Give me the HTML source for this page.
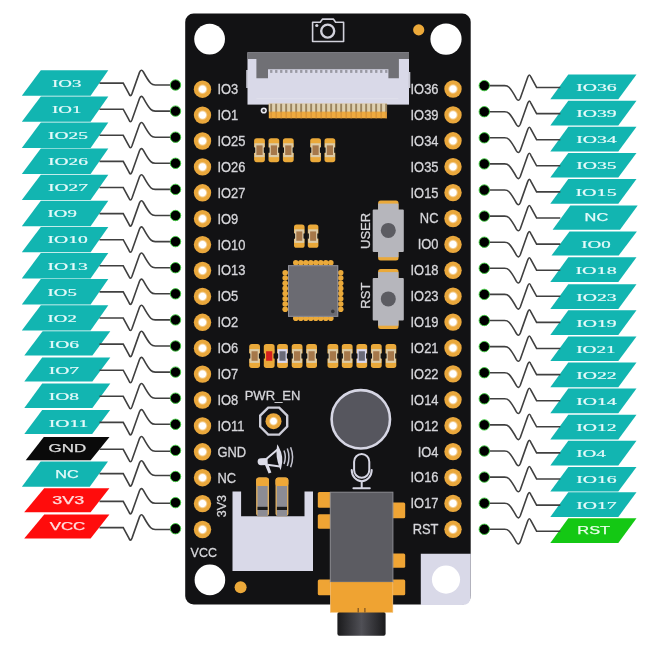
<!DOCTYPE html><html><head><meta charset="utf-8"><style>html,body{margin:0;padding:0;background:#fff;overflow:hidden;}svg{display:block;will-change:transform;}</style></head><body>
<svg width="660" height="652" viewBox="0 0 660 652">
<defs><radialGradient id="padg" cx="50%" cy="50%" r="50%"><stop offset="0" stop-color="#ffffff"/><stop offset="0.36" stop-color="#ffffff"/><stop offset="0.5" stop-color="#f2c47a"/><stop offset="0.6" stop-color="#eaa83c"/><stop offset="1" stop-color="#e9a73c"/></radialGradient><linearGradient id="jackg" x1="0" x2="1" y1="0" y2="0"><stop offset="0" stop-color="#1a1a1c"/><stop offset="0.5" stop-color="#505056"/><stop offset="1" stop-color="#1a1a1c"/></linearGradient></defs>
<rect width="660" height="652" fill="#ffffff"/>
<polygon points="40.8,70.30 108.3,70.30 90.6,95.70 21.8,95.70" fill="#12b5b1"/>
<path d="M99.5 83.1 L123.2 83.1 L128.9 93.6 Q130.4 97.6 132 93.6 L139.5 72.4 Q141.2 68.4 143.4 72 Q148 80.5 150.8 83.3 Q152.4 85 155.2 85 L175.5 85" transform="translate(0,0.00)" fill="none" stroke="#404040" stroke-width="1.6"/>
<circle cx="175.5" cy="85.00" r="5.2" fill="#000" stroke="#40d040" stroke-width="0.9"/>
<text x="52" y="86.80" font-family="Liberation Serif" font-size="11" fill="#e4fafa" stroke="#e4fafa" stroke-width="0.2" textLength="29.4" lengthAdjust="spacingAndGlyphs">IO3</text>
<polygon points="40.8,96.40 108.3,96.40 90.6,121.80 21.8,121.80" fill="#12b5b1"/>
<path d="M99.5 83.1 L123.2 83.1 L128.9 93.6 Q130.4 97.6 132 93.6 L139.5 72.4 Q141.2 68.4 143.4 72 Q148 80.5 150.8 83.3 Q152.4 85 155.2 85 L175.5 85" transform="translate(0,26.10)" fill="none" stroke="#404040" stroke-width="1.6"/>
<circle cx="175.5" cy="111.10" r="5.2" fill="#000" stroke="#40d040" stroke-width="0.9"/>
<text x="52" y="112.90" font-family="Liberation Serif" font-size="11" fill="#e4fafa" stroke="#e4fafa" stroke-width="0.2" textLength="29.4" lengthAdjust="spacingAndGlyphs">IO1</text>
<polygon points="40.8,122.50 108.3,122.50 90.6,147.90 21.8,147.90" fill="#12b5b1"/>
<path d="M99.5 83.1 L123.2 83.1 L128.9 93.6 Q130.4 97.6 132 93.6 L139.5 72.4 Q141.2 68.4 143.4 72 Q148 80.5 150.8 83.3 Q152.4 85 155.2 85 L175.5 85" transform="translate(0,52.20)" fill="none" stroke="#404040" stroke-width="1.6"/>
<circle cx="175.5" cy="137.20" r="5.2" fill="#000" stroke="#40d040" stroke-width="0.9"/>
<text x="48" y="139.00" font-family="Liberation Serif" font-size="11" fill="#e4fafa" stroke="#e4fafa" stroke-width="0.2" textLength="39.9" lengthAdjust="spacingAndGlyphs">IO25</text>
<polygon points="40.8,148.60 108.3,148.60 90.6,174.00 21.8,174.00" fill="#12b5b1"/>
<path d="M99.5 83.1 L123.2 83.1 L128.9 93.6 Q130.4 97.6 132 93.6 L139.5 72.4 Q141.2 68.4 143.4 72 Q148 80.5 150.8 83.3 Q152.4 85 155.2 85 L175.5 85" transform="translate(0,78.30)" fill="none" stroke="#404040" stroke-width="1.6"/>
<circle cx="175.5" cy="163.30" r="5.2" fill="#000" stroke="#40d040" stroke-width="0.9"/>
<text x="48" y="165.10" font-family="Liberation Serif" font-size="11" fill="#e4fafa" stroke="#e4fafa" stroke-width="0.2" textLength="39.9" lengthAdjust="spacingAndGlyphs">IO26</text>
<polygon points="40.8,174.70 108.3,174.70 90.6,200.10 21.8,200.10" fill="#12b5b1"/>
<path d="M99.5 83.1 L123.2 83.1 L128.9 93.6 Q130.4 97.6 132 93.6 L139.5 72.4 Q141.2 68.4 143.4 72 Q148 80.5 150.8 83.3 Q152.4 85 155.2 85 L175.5 85" transform="translate(0,104.40)" fill="none" stroke="#404040" stroke-width="1.6"/>
<circle cx="175.5" cy="189.40" r="5.2" fill="#000" stroke="#40d040" stroke-width="0.9"/>
<text x="48" y="191.20" font-family="Liberation Serif" font-size="11" fill="#e4fafa" stroke="#e4fafa" stroke-width="0.2" textLength="39.9" lengthAdjust="spacingAndGlyphs">IO27</text>
<polygon points="40.8,200.80 108.3,200.80 90.6,226.20 21.8,226.20" fill="#12b5b1"/>
<path d="M99.5 83.1 L123.2 83.1 L128.9 93.6 Q130.4 97.6 132 93.6 L139.5 72.4 Q141.2 68.4 143.4 72 Q148 80.5 150.8 83.3 Q152.4 85 155.2 85 L175.5 85" transform="translate(0,130.50)" fill="none" stroke="#404040" stroke-width="1.6"/>
<circle cx="175.5" cy="215.50" r="5.2" fill="#000" stroke="#40d040" stroke-width="0.9"/>
<text x="47.6" y="217.30" font-family="Liberation Serif" font-size="11" fill="#e4fafa" stroke="#e4fafa" stroke-width="0.2" textLength="29.2" lengthAdjust="spacingAndGlyphs">IO9</text>
<polygon points="40.8,226.90 108.3,226.90 90.6,252.30 21.8,252.30" fill="#12b5b1"/>
<path d="M99.5 83.1 L123.2 83.1 L128.9 93.6 Q130.4 97.6 132 93.6 L139.5 72.4 Q141.2 68.4 143.4 72 Q148 80.5 150.8 83.3 Q152.4 85 155.2 85 L175.5 85" transform="translate(0,156.60)" fill="none" stroke="#404040" stroke-width="1.6"/>
<circle cx="175.5" cy="241.60" r="5.2" fill="#000" stroke="#40d040" stroke-width="0.9"/>
<text x="47.6" y="243.40" font-family="Liberation Serif" font-size="11" fill="#e4fafa" stroke="#e4fafa" stroke-width="0.2" textLength="40.3" lengthAdjust="spacingAndGlyphs">IO10</text>
<polygon points="40.8,253.00 108.3,253.00 90.6,278.40 21.8,278.40" fill="#12b5b1"/>
<path d="M99.5 83.1 L123.2 83.1 L128.9 93.6 Q130.4 97.6 132 93.6 L139.5 72.4 Q141.2 68.4 143.4 72 Q148 80.5 150.8 83.3 Q152.4 85 155.2 85 L175.5 85" transform="translate(0,182.70)" fill="none" stroke="#404040" stroke-width="1.6"/>
<circle cx="175.5" cy="267.70" r="5.2" fill="#000" stroke="#40d040" stroke-width="0.9"/>
<text x="47.6" y="269.50" font-family="Liberation Serif" font-size="11" fill="#e4fafa" stroke="#e4fafa" stroke-width="0.2" textLength="40.3" lengthAdjust="spacingAndGlyphs">IO13</text>
<polygon points="40.8,279.10 108.3,279.10 90.6,304.50 21.8,304.50" fill="#12b5b1"/>
<path d="M99.5 83.1 L123.2 83.1 L128.9 93.6 Q130.4 97.6 132 93.6 L139.5 72.4 Q141.2 68.4 143.4 72 Q148 80.5 150.8 83.3 Q152.4 85 155.2 85 L175.5 85" transform="translate(0,208.80)" fill="none" stroke="#404040" stroke-width="1.6"/>
<circle cx="175.5" cy="293.80" r="5.2" fill="#000" stroke="#40d040" stroke-width="0.9"/>
<text x="47.6" y="295.60" font-family="Liberation Serif" font-size="11" fill="#e4fafa" stroke="#e4fafa" stroke-width="0.2" textLength="29.2" lengthAdjust="spacingAndGlyphs">IO5</text>
<polygon points="40.8,305.20 108.3,305.20 90.6,330.60 21.8,330.60" fill="#12b5b1"/>
<path d="M99.5 83.1 L123.2 83.1 L128.9 93.6 Q130.4 97.6 132 93.6 L139.5 72.4 Q141.2 68.4 143.4 72 Q148 80.5 150.8 83.3 Q152.4 85 155.2 85 L175.5 85" transform="translate(0,234.90)" fill="none" stroke="#404040" stroke-width="1.6"/>
<circle cx="175.5" cy="319.90" r="5.2" fill="#000" stroke="#40d040" stroke-width="0.9"/>
<text x="47.6" y="321.70" font-family="Liberation Serif" font-size="11" fill="#e4fafa" stroke="#e4fafa" stroke-width="0.2" textLength="29.2" lengthAdjust="spacingAndGlyphs">IO2</text>
<polygon points="42.6,331.30 110.3,331.30 92.4,355.60 24.3,355.60" fill="#12b5b1"/>
<path d="M99.5 83.1 L123.2 83.1 L128.9 93.6 Q130.4 97.6 132 93.6 L139.5 72.4 Q141.2 68.4 143.4 72 Q148 80.5 150.8 83.3 Q152.4 85 155.2 85 L175.5 85" transform="translate(0,261.00)" fill="none" stroke="#404040" stroke-width="1.6"/>
<circle cx="175.5" cy="346.00" r="5.2" fill="#000" stroke="#40d040" stroke-width="0.9"/>
<text x="48.7" y="347.80" font-family="Liberation Serif" font-size="11" fill="#e4fafa" stroke="#e4fafa" stroke-width="0.2" textLength="30.3" lengthAdjust="spacingAndGlyphs">IO6</text>
<polygon points="42.2,357.40 110.3,357.40 92.4,381.60 24.3,381.60" fill="#12b5b1"/>
<path d="M99.5 83.1 L123.2 83.1 L128.9 93.6 Q130.4 97.6 132 93.6 L139.5 72.4 Q141.2 68.4 143.4 72 Q148 80.5 150.8 83.3 Q152.4 85 155.2 85 L175.5 85" transform="translate(0,287.10)" fill="none" stroke="#404040" stroke-width="1.6"/>
<circle cx="175.5" cy="372.10" r="5.2" fill="#000" stroke="#40d040" stroke-width="0.9"/>
<text x="48.7" y="373.90" font-family="Liberation Serif" font-size="11" fill="#e4fafa" stroke="#e4fafa" stroke-width="0.2" textLength="30.3" lengthAdjust="spacingAndGlyphs">IO7</text>
<polygon points="42.2,383.60 110.3,383.60 92.4,407.90 24.3,407.90" fill="#12b5b1"/>
<path d="M99.5 83.1 L123.2 83.1 L128.9 93.6 Q130.4 97.6 132 93.6 L139.5 72.4 Q141.2 68.4 143.4 72 Q148 80.5 150.8 83.3 Q152.4 85 155.2 85 L175.5 85" transform="translate(0,313.20)" fill="none" stroke="#404040" stroke-width="1.6"/>
<circle cx="175.5" cy="398.20" r="5.2" fill="#000" stroke="#40d040" stroke-width="0.9"/>
<text x="48.7" y="400.10" font-family="Liberation Serif" font-size="11" fill="#e4fafa" stroke="#e4fafa" stroke-width="0.2" textLength="30.3" lengthAdjust="spacingAndGlyphs">IO8</text>
<polygon points="42.2,410.00 110.1,410.00 92.2,433.90 24.3,433.90" fill="#12b5b1"/>
<path d="M99.5 83.1 L123.2 83.1 L128.9 93.6 Q130.4 97.6 132 93.6 L139.5 72.4 Q141.2 68.4 143.4 72 Q148 80.5 150.8 83.3 Q152.4 85 155.2 85 L175.5 85" transform="translate(0,339.30)" fill="none" stroke="#404040" stroke-width="1.6"/>
<circle cx="175.5" cy="424.30" r="5.2" fill="#000" stroke="#40d040" stroke-width="0.9"/>
<text x="48.7" y="426.50" font-family="Liberation Serif" font-size="11" fill="#e4fafa" stroke="#e4fafa" stroke-width="0.2" textLength="39.7" lengthAdjust="spacingAndGlyphs">IO11</text>
<polygon points="43.8,436.90 109.5,436.90 90.7,460.30 25.7,460.30" fill="#0a0a0a"/>
<path d="M99.5 83.1 L123.2 83.1 L128.9 93.6 Q130.4 97.6 132 93.6 L139.5 72.4 Q141.2 68.4 143.4 72 Q148 80.5 150.8 83.3 Q152.4 85 155.2 85 L175.5 85" transform="translate(0,366.20)" fill="none" stroke="#404040" stroke-width="1.6"/>
<circle cx="175.5" cy="450.40" r="5.2" fill="#000" stroke="#40d040" stroke-width="0.9"/>
<text x="67.4" y="452.40" text-anchor="middle" font-family="Liberation Sans" font-size="10.4" fill="#dcdcdc" stroke="#dcdcdc" stroke-width="0.25" textLength="37.6" lengthAdjust="spacingAndGlyphs">GND</text>
<polygon points="40.6,461.50 108.0,461.50 89.8,486.80 21.9,486.80" fill="#12b5b1"/>
<path d="M99.5 83.1 L123.2 83.1 L128.9 93.6 Q130.4 97.6 132 93.6 L139.5 72.4 Q141.2 68.4 143.4 72 Q148 80.5 150.8 83.3 Q152.4 85 155.2 85 L175.5 85" transform="translate(0,390.50)" fill="none" stroke="#404040" stroke-width="1.6"/>
<circle cx="175.5" cy="476.50" r="5.2" fill="#000" stroke="#40d040" stroke-width="0.9"/>
<text x="67" y="477.95" text-anchor="middle" font-family="Liberation Sans" font-size="10.4" fill="#e4fafa" stroke="#e4fafa" stroke-width="0.25" textLength="23.4" lengthAdjust="spacingAndGlyphs">NC</text>
<polygon points="44.2,488.30 109.4,488.30 90.6,512.30 24.2,512.30" fill="#ff0c0c"/>
<path d="M99.5 83.1 L123.2 83.1 L128.9 93.6 Q130.4 97.6 132 93.6 L139.5 72.4 Q141.2 68.4 143.4 72 Q148 80.5 150.8 83.3 Q152.4 85 155.2 85 L175.5 85" transform="translate(0,418.30)" fill="none" stroke="#404040" stroke-width="1.6"/>
<circle cx="175.5" cy="502.60" r="5.2" fill="#000" stroke="#40d040" stroke-width="0.9"/>
<text x="68.2" y="504.10" text-anchor="middle" font-family="Liberation Sans" font-size="10.4" fill="#ffdede" stroke="#ffdede" stroke-width="0.25" textLength="31.8" lengthAdjust="spacingAndGlyphs">3V3</text>
<polygon points="44.2,514.50 109.4,514.50 90.6,538.40 24.2,538.40" fill="#ff0c0c"/>
<path d="M99.5 83.1 L123.2 83.1 L128.9 93.6 Q130.4 97.6 132 93.6 L139.5 72.4 Q141.2 68.4 143.4 72 Q148 80.5 150.8 83.3 Q152.4 85 155.2 85 L175.5 85" transform="translate(0,444.50)" fill="none" stroke="#404040" stroke-width="1.6"/>
<circle cx="175.5" cy="528.70" r="5.2" fill="#000" stroke="#40d040" stroke-width="0.9"/>
<text x="67.5" y="530.25" text-anchor="middle" font-family="Liberation Sans" font-size="10.4" fill="#ffdede" stroke="#ffdede" stroke-width="0.25" textLength="35.7" lengthAdjust="spacingAndGlyphs">VCC</text>
<polygon points="568.3,74.60 636.5,74.60 618.3,99.30 550.3,99.30" fill="#12b5b1"/>
<path d="M99.5 83.1 L123.2 83.1 L128.9 93.6 Q130.4 97.6 132 93.6 L139.5 72.4 Q141.2 68.4 143.4 72 Q148 80.5 150.8 83.3 Q152.4 85 155.2 85 L175.5 85" transform="translate(0,0.00) translate(659.8,170.6) rotate(180)" fill="none" stroke="#404040" stroke-width="1.6"/>
<circle cx="484.3" cy="85.60" r="5.2" fill="#000" stroke="#40d040" stroke-width="0.9"/>
<text x="576.2" y="91.10" font-family="Liberation Serif" font-size="11" fill="#e4fafa" stroke="#e4fafa" stroke-width="0.2" textLength="40.5" lengthAdjust="spacingAndGlyphs">IO36</text>
<polygon points="568.3,100.70 636.5,100.70 618.3,125.40 550.3,125.40" fill="#12b5b1"/>
<path d="M99.5 83.1 L123.2 83.1 L128.9 93.6 Q130.4 97.6 132 93.6 L139.5 72.4 Q141.2 68.4 143.4 72 Q148 80.5 150.8 83.3 Q152.4 85 155.2 85 L175.5 85" transform="translate(0,26.10) translate(659.8,170.6) rotate(180)" fill="none" stroke="#404040" stroke-width="1.6"/>
<circle cx="484.3" cy="111.70" r="5.2" fill="#000" stroke="#40d040" stroke-width="0.9"/>
<text x="576.2" y="117.20" font-family="Liberation Serif" font-size="11" fill="#e4fafa" stroke="#e4fafa" stroke-width="0.2" textLength="40.5" lengthAdjust="spacingAndGlyphs">IO39</text>
<polygon points="568.3,126.80 636.5,126.80 618.3,151.50 550.3,151.50" fill="#12b5b1"/>
<path d="M99.5 83.1 L123.2 83.1 L128.9 93.6 Q130.4 97.6 132 93.6 L139.5 72.4 Q141.2 68.4 143.4 72 Q148 80.5 150.8 83.3 Q152.4 85 155.2 85 L175.5 85" transform="translate(0,52.20) translate(659.8,170.6) rotate(180)" fill="none" stroke="#404040" stroke-width="1.6"/>
<circle cx="484.3" cy="137.80" r="5.2" fill="#000" stroke="#40d040" stroke-width="0.9"/>
<text x="576.2" y="143.30" font-family="Liberation Serif" font-size="11" fill="#e4fafa" stroke="#e4fafa" stroke-width="0.2" textLength="40.5" lengthAdjust="spacingAndGlyphs">IO34</text>
<polygon points="568.3,152.90 636.5,152.90 618.3,177.60 550.3,177.60" fill="#12b5b1"/>
<path d="M99.5 83.1 L123.2 83.1 L128.9 93.6 Q130.4 97.6 132 93.6 L139.5 72.4 Q141.2 68.4 143.4 72 Q148 80.5 150.8 83.3 Q152.4 85 155.2 85 L175.5 85" transform="translate(0,78.30) translate(659.8,170.6) rotate(180)" fill="none" stroke="#404040" stroke-width="1.6"/>
<circle cx="484.3" cy="163.90" r="5.2" fill="#000" stroke="#40d040" stroke-width="0.9"/>
<text x="576.2" y="169.40" font-family="Liberation Serif" font-size="11" fill="#e4fafa" stroke="#e4fafa" stroke-width="0.2" textLength="40.5" lengthAdjust="spacingAndGlyphs">IO35</text>
<polygon points="568.3,179.00 636.5,179.00 618.3,203.70 550.3,203.70" fill="#12b5b1"/>
<path d="M99.5 83.1 L123.2 83.1 L128.9 93.6 Q130.4 97.6 132 93.6 L139.5 72.4 Q141.2 68.4 143.4 72 Q148 80.5 150.8 83.3 Q152.4 85 155.2 85 L175.5 85" transform="translate(0,104.40) translate(659.8,170.6) rotate(180)" fill="none" stroke="#404040" stroke-width="1.6"/>
<circle cx="484.3" cy="190.00" r="5.2" fill="#000" stroke="#40d040" stroke-width="0.9"/>
<text x="575.4" y="195.50" font-family="Liberation Serif" font-size="11" fill="#e4fafa" stroke="#e4fafa" stroke-width="0.2" textLength="41.3" lengthAdjust="spacingAndGlyphs">IO15</text>
<polygon points="570.3,205.40 637.7,205.40 620.0,229.80 552.6,229.80" fill="#12b5b1"/>
<path d="M99.5 83.1 L123.2 83.1 L128.9 93.6 Q130.4 97.6 132 93.6 L139.5 72.4 Q141.2 68.4 143.4 72 Q148 80.5 150.8 83.3 Q152.4 85 155.2 85 L175.5 85" transform="translate(0,130.50) translate(659.8,170.6) rotate(180)" fill="none" stroke="#404040" stroke-width="1.6"/>
<circle cx="484.3" cy="216.10" r="5.2" fill="#000" stroke="#40d040" stroke-width="0.9"/>
<text x="596.4" y="221.40" text-anchor="middle" font-family="Liberation Sans" font-size="10.4" fill="#e4fafa" stroke="#e4fafa" stroke-width="0.25" textLength="23.6" lengthAdjust="spacingAndGlyphs">NC</text>
<polygon points="569.5,231.50 636.9,231.50 618.7,255.60 551.5,255.60" fill="#12b5b1"/>
<path d="M99.5 83.1 L123.2 83.1 L128.9 93.6 Q130.4 97.6 132 93.6 L139.5 72.4 Q141.2 68.4 143.4 72 Q148 80.5 150.8 83.3 Q152.4 85 155.2 85 L175.5 85" transform="translate(0,156.60) translate(659.8,170.6) rotate(180)" fill="none" stroke="#404040" stroke-width="1.6"/>
<circle cx="484.3" cy="242.20" r="5.2" fill="#000" stroke="#40d040" stroke-width="0.9"/>
<text x="581.3" y="248.00" font-family="Liberation Serif" font-size="11" fill="#e4fafa" stroke="#e4fafa" stroke-width="0.2" textLength="29.5" lengthAdjust="spacingAndGlyphs">IO0</text>
<polygon points="568.3,257.30 636.5,257.30 618.3,282.00 550.3,282.00" fill="#12b5b1"/>
<path d="M99.5 83.1 L123.2 83.1 L128.9 93.6 Q130.4 97.6 132 93.6 L139.5 72.4 Q141.2 68.4 143.4 72 Q148 80.5 150.8 83.3 Q152.4 85 155.2 85 L175.5 85" transform="translate(0,182.70) translate(659.8,170.6) rotate(180)" fill="none" stroke="#404040" stroke-width="1.6"/>
<circle cx="484.3" cy="268.30" r="5.2" fill="#000" stroke="#40d040" stroke-width="0.9"/>
<text x="575.4" y="273.80" font-family="Liberation Serif" font-size="11" fill="#e4fafa" stroke="#e4fafa" stroke-width="0.2" textLength="41.3" lengthAdjust="spacingAndGlyphs">IO18</text>
<polygon points="568.3,284.20 636.5,284.20 618.3,308.90 550.3,308.90" fill="#12b5b1"/>
<path d="M99.5 83.1 L123.2 83.1 L128.9 93.6 Q130.4 97.6 132 93.6 L139.5 72.4 Q141.2 68.4 143.4 72 Q148 80.5 150.8 83.3 Q152.4 85 155.2 85 L175.5 85" transform="translate(0,208.80) translate(659.8,170.6) rotate(180)" fill="none" stroke="#404040" stroke-width="1.6"/>
<circle cx="484.3" cy="294.40" r="5.2" fill="#000" stroke="#40d040" stroke-width="0.9"/>
<text x="576.2" y="300.70" font-family="Liberation Serif" font-size="11" fill="#e4fafa" stroke="#e4fafa" stroke-width="0.2" textLength="40.5" lengthAdjust="spacingAndGlyphs">IO23</text>
<polygon points="568.3,310.30 636.5,310.30 618.3,335.00 550.3,335.00" fill="#12b5b1"/>
<path d="M99.5 83.1 L123.2 83.1 L128.9 93.6 Q130.4 97.6 132 93.6 L139.5 72.4 Q141.2 68.4 143.4 72 Q148 80.5 150.8 83.3 Q152.4 85 155.2 85 L175.5 85" transform="translate(0,234.90) translate(659.8,170.6) rotate(180)" fill="none" stroke="#404040" stroke-width="1.6"/>
<circle cx="484.3" cy="320.50" r="5.2" fill="#000" stroke="#40d040" stroke-width="0.9"/>
<text x="576.2" y="326.80" font-family="Liberation Serif" font-size="11" fill="#e4fafa" stroke="#e4fafa" stroke-width="0.2" textLength="40.5" lengthAdjust="spacingAndGlyphs">IO19</text>
<polygon points="568.3,336.40 636.5,336.40 618.3,361.10 550.3,361.10" fill="#12b5b1"/>
<path d="M99.5 83.1 L123.2 83.1 L128.9 93.6 Q130.4 97.6 132 93.6 L139.5 72.4 Q141.2 68.4 143.4 72 Q148 80.5 150.8 83.3 Q152.4 85 155.2 85 L175.5 85" transform="translate(0,261.00) translate(659.8,170.6) rotate(180)" fill="none" stroke="#404040" stroke-width="1.6"/>
<circle cx="484.3" cy="346.60" r="5.2" fill="#000" stroke="#40d040" stroke-width="0.9"/>
<text x="576.2" y="352.90" font-family="Liberation Serif" font-size="11" fill="#e4fafa" stroke="#e4fafa" stroke-width="0.2" textLength="39.5" lengthAdjust="spacingAndGlyphs">IO21</text>
<polygon points="568.3,362.50 636.5,362.50 618.3,387.20 550.3,387.20" fill="#12b5b1"/>
<path d="M99.5 83.1 L123.2 83.1 L128.9 93.6 Q130.4 97.6 132 93.6 L139.5 72.4 Q141.2 68.4 143.4 72 Q148 80.5 150.8 83.3 Q152.4 85 155.2 85 L175.5 85" transform="translate(0,287.10) translate(659.8,170.6) rotate(180)" fill="none" stroke="#404040" stroke-width="1.6"/>
<circle cx="484.3" cy="372.70" r="5.2" fill="#000" stroke="#40d040" stroke-width="0.9"/>
<text x="576.2" y="379.00" font-family="Liberation Serif" font-size="11" fill="#e4fafa" stroke="#e4fafa" stroke-width="0.2" textLength="40.5" lengthAdjust="spacingAndGlyphs">IO22</text>
<polygon points="568.3,388.60 636.5,388.60 618.3,413.30 550.3,413.30" fill="#12b5b1"/>
<path d="M99.5 83.1 L123.2 83.1 L128.9 93.6 Q130.4 97.6 132 93.6 L139.5 72.4 Q141.2 68.4 143.4 72 Q148 80.5 150.8 83.3 Q152.4 85 155.2 85 L175.5 85" transform="translate(0,313.20) translate(659.8,170.6) rotate(180)" fill="none" stroke="#404040" stroke-width="1.6"/>
<circle cx="484.3" cy="398.80" r="5.2" fill="#000" stroke="#40d040" stroke-width="0.9"/>
<text x="576.2" y="405.10" font-family="Liberation Serif" font-size="11" fill="#e4fafa" stroke="#e4fafa" stroke-width="0.2" textLength="40.5" lengthAdjust="spacingAndGlyphs">IO14</text>
<polygon points="568.3,414.70 636.5,414.70 618.3,439.40 550.3,439.40" fill="#12b5b1"/>
<path d="M99.5 83.1 L123.2 83.1 L128.9 93.6 Q130.4 97.6 132 93.6 L139.5 72.4 Q141.2 68.4 143.4 72 Q148 80.5 150.8 83.3 Q152.4 85 155.2 85 L175.5 85" transform="translate(0,339.30) translate(659.8,170.6) rotate(180)" fill="none" stroke="#404040" stroke-width="1.6"/>
<circle cx="484.3" cy="424.90" r="5.2" fill="#000" stroke="#40d040" stroke-width="0.9"/>
<text x="576.2" y="431.20" font-family="Liberation Serif" font-size="11" fill="#e4fafa" stroke="#e4fafa" stroke-width="0.2" textLength="40.5" lengthAdjust="spacingAndGlyphs">IO12</text>
<polygon points="568.3,440.80 636.5,440.80 618.3,465.50 550.3,465.50" fill="#12b5b1"/>
<path d="M99.5 83.1 L123.2 83.1 L128.9 93.6 Q130.4 97.6 132 93.6 L139.5 72.4 Q141.2 68.4 143.4 72 Q148 80.5 150.8 83.3 Q152.4 85 155.2 85 L175.5 85" transform="translate(0,365.40) translate(659.8,170.6) rotate(180)" fill="none" stroke="#404040" stroke-width="1.6"/>
<circle cx="484.3" cy="451.00" r="5.2" fill="#000" stroke="#40d040" stroke-width="0.9"/>
<text x="576.2" y="457.30" font-family="Liberation Serif" font-size="11" fill="#e4fafa" stroke="#e4fafa" stroke-width="0.2" textLength="29.5" lengthAdjust="spacingAndGlyphs">IO4</text>
<polygon points="568.3,466.90 636.5,466.90 618.3,491.60 550.3,491.60" fill="#12b5b1"/>
<path d="M99.5 83.1 L123.2 83.1 L128.9 93.6 Q130.4 97.6 132 93.6 L139.5 72.4 Q141.2 68.4 143.4 72 Q148 80.5 150.8 83.3 Q152.4 85 155.2 85 L175.5 85" transform="translate(0,391.50) translate(659.8,170.6) rotate(180)" fill="none" stroke="#404040" stroke-width="1.6"/>
<circle cx="484.3" cy="477.10" r="5.2" fill="#000" stroke="#40d040" stroke-width="0.9"/>
<text x="576.2" y="483.40" font-family="Liberation Serif" font-size="11" fill="#e4fafa" stroke="#e4fafa" stroke-width="0.2" textLength="40.5" lengthAdjust="spacingAndGlyphs">IO16</text>
<polygon points="568.3,492.20 636.5,492.20 618.3,516.90 550.3,516.90" fill="#12b5b1"/>
<path d="M99.5 83.1 L123.2 83.1 L128.9 93.6 Q130.4 97.6 132 93.6 L139.5 72.4 Q141.2 68.4 143.4 72 Q148 80.5 150.8 83.3 Q152.4 85 155.2 85 L175.5 85" transform="translate(0,417.60) translate(659.8,170.6) rotate(180)" fill="none" stroke="#404040" stroke-width="1.6"/>
<circle cx="484.3" cy="503.20" r="5.2" fill="#000" stroke="#40d040" stroke-width="0.9"/>
<text x="576.2" y="508.70" font-family="Liberation Serif" font-size="11" fill="#e4fafa" stroke="#e4fafa" stroke-width="0.2" textLength="40.5" lengthAdjust="spacingAndGlyphs">IO17</text>
<polygon points="568.3,518.30 636.5,518.30 618.3,543.00 550.3,543.00" fill="#14c814"/>
<path d="M99.5 83.1 L123.2 83.1 L128.9 93.6 Q130.4 97.6 132 93.6 L139.5 72.4 Q141.2 68.4 143.4 72 Q148 80.5 150.8 83.3 Q152.4 85 155.2 85 L175.5 85" transform="translate(0,443.70) translate(659.8,170.6) rotate(180)" fill="none" stroke="#404040" stroke-width="1.6"/>
<circle cx="484.3" cy="529.30" r="5.2" fill="#000" stroke="#40d040" stroke-width="0.9"/>
<text x="593.7" y="534.45" text-anchor="middle" font-family="Liberation Sans" font-size="10.4" fill="#e8ffe8" stroke="#e8ffe8" stroke-width="0.25" textLength="32.7" lengthAdjust="spacingAndGlyphs">RST</text>
<rect x="185.2" y="13.6" width="285.5" height="591" rx="8.5" fill="#121214"/>
<path d="M420.8 553.8 H470.7 V596.5 Q470.7 605 462.2 605 H420.8 Z" fill="#d9d9e8"/>
<circle cx="446" cy="579.6" r="14.1" fill="#fff"/>
<circle cx="209.6" cy="39.1" r="15.4" fill="#fff"/>
<circle cx="446" cy="39.1" r="15.6" fill="#fff"/>
<circle cx="209.9" cy="579.9" r="15.3" fill="#fff"/>
<circle cx="418.7" cy="29.9" r="5.6" fill="#eca93a"/>
<circle cx="240.6" cy="587.3" r="6" fill="#eca93a"/>
<circle cx="202.5" cy="89.20" r="8.7" fill="url(#padg)"/>
<text transform="translate(217.40,94.10) scale(0.923,1)" text-anchor="start" font-size="14.0" font-family="Liberation Sans" fill="#d6d6da" stroke="#d6d6da" stroke-width="0.3">IO3</text>
<circle cx="202.5" cy="115.10" r="8.7" fill="url(#padg)"/>
<text transform="translate(217.40,120.00) scale(0.923,1)" text-anchor="start" font-size="14.0" font-family="Liberation Sans" fill="#d6d6da" stroke="#d6d6da" stroke-width="0.3">IO1</text>
<circle cx="202.5" cy="141.00" r="8.7" fill="url(#padg)"/>
<text transform="translate(217.40,145.90) scale(0.923,1)" text-anchor="start" font-size="14.0" font-family="Liberation Sans" fill="#d6d6da" stroke="#d6d6da" stroke-width="0.3">IO25</text>
<circle cx="202.5" cy="166.90" r="8.7" fill="url(#padg)"/>
<text transform="translate(217.40,171.80) scale(0.923,1)" text-anchor="start" font-size="14.0" font-family="Liberation Sans" fill="#d6d6da" stroke="#d6d6da" stroke-width="0.3">IO26</text>
<circle cx="202.5" cy="192.80" r="8.7" fill="url(#padg)"/>
<text transform="translate(217.40,197.70) scale(0.923,1)" text-anchor="start" font-size="14.0" font-family="Liberation Sans" fill="#d6d6da" stroke="#d6d6da" stroke-width="0.3">IO27</text>
<circle cx="202.5" cy="218.70" r="8.7" fill="url(#padg)"/>
<text transform="translate(217.40,223.60) scale(0.923,1)" text-anchor="start" font-size="14.0" font-family="Liberation Sans" fill="#d6d6da" stroke="#d6d6da" stroke-width="0.3">IO9</text>
<circle cx="202.5" cy="244.60" r="8.7" fill="url(#padg)"/>
<text transform="translate(217.40,249.50) scale(0.923,1)" text-anchor="start" font-size="14.0" font-family="Liberation Sans" fill="#d6d6da" stroke="#d6d6da" stroke-width="0.3">IO10</text>
<circle cx="202.5" cy="270.50" r="8.7" fill="url(#padg)"/>
<text transform="translate(217.40,275.40) scale(0.923,1)" text-anchor="start" font-size="14.0" font-family="Liberation Sans" fill="#d6d6da" stroke="#d6d6da" stroke-width="0.3">IO13</text>
<circle cx="202.5" cy="296.40" r="8.7" fill="url(#padg)"/>
<text transform="translate(217.40,301.30) scale(0.923,1)" text-anchor="start" font-size="14.0" font-family="Liberation Sans" fill="#d6d6da" stroke="#d6d6da" stroke-width="0.3">IO5</text>
<circle cx="202.5" cy="322.30" r="8.7" fill="url(#padg)"/>
<text transform="translate(217.40,327.20) scale(0.923,1)" text-anchor="start" font-size="14.0" font-family="Liberation Sans" fill="#d6d6da" stroke="#d6d6da" stroke-width="0.3">IO2</text>
<circle cx="202.5" cy="348.20" r="8.7" fill="url(#padg)"/>
<text transform="translate(217.40,353.10) scale(0.923,1)" text-anchor="start" font-size="14.0" font-family="Liberation Sans" fill="#d6d6da" stroke="#d6d6da" stroke-width="0.3">IO6</text>
<circle cx="202.5" cy="374.10" r="8.7" fill="url(#padg)"/>
<text transform="translate(217.40,379.00) scale(0.923,1)" text-anchor="start" font-size="14.0" font-family="Liberation Sans" fill="#d6d6da" stroke="#d6d6da" stroke-width="0.3">IO7</text>
<circle cx="202.5" cy="400.00" r="8.7" fill="url(#padg)"/>
<text transform="translate(217.40,404.90) scale(0.923,1)" text-anchor="start" font-size="14.0" font-family="Liberation Sans" fill="#d6d6da" stroke="#d6d6da" stroke-width="0.3">IO8</text>
<circle cx="202.5" cy="425.90" r="8.7" fill="url(#padg)"/>
<text transform="translate(217.40,430.80) scale(0.923,1)" text-anchor="start" font-size="14.0" font-family="Liberation Sans" fill="#d6d6da" stroke="#d6d6da" stroke-width="0.3">IO11</text>
<circle cx="202.5" cy="451.80" r="8.7" fill="url(#padg)"/>
<text transform="translate(217.40,456.70) scale(0.923,1)" text-anchor="start" font-size="14.0" font-family="Liberation Sans" fill="#d6d6da" stroke="#d6d6da" stroke-width="0.3">GND</text>
<circle cx="202.5" cy="477.70" r="8.7" fill="url(#padg)"/>
<text transform="translate(217.40,482.60) scale(0.923,1)" text-anchor="start" font-size="14.0" font-family="Liberation Sans" fill="#d6d6da" stroke="#d6d6da" stroke-width="0.3">NC</text>
<circle cx="202.5" cy="503.60" r="8.7" fill="url(#padg)"/>
<circle cx="202.5" cy="529.50" r="8.7" fill="url(#padg)"/>
<circle cx="453" cy="89.00" r="8.7" fill="url(#padg)"/>
<text transform="translate(438.50,93.90) scale(0.923,1)" text-anchor="end" font-size="14.0" font-family="Liberation Sans" fill="#d6d6da" stroke="#d6d6da" stroke-width="0.3">IO36</text>
<circle cx="453" cy="114.90" r="8.7" fill="url(#padg)"/>
<text transform="translate(438.50,119.80) scale(0.923,1)" text-anchor="end" font-size="14.0" font-family="Liberation Sans" fill="#d6d6da" stroke="#d6d6da" stroke-width="0.3">IO39</text>
<circle cx="453" cy="140.80" r="8.7" fill="url(#padg)"/>
<text transform="translate(438.50,145.70) scale(0.923,1)" text-anchor="end" font-size="14.0" font-family="Liberation Sans" fill="#d6d6da" stroke="#d6d6da" stroke-width="0.3">IO34</text>
<circle cx="453" cy="166.70" r="8.7" fill="url(#padg)"/>
<text transform="translate(438.50,171.60) scale(0.923,1)" text-anchor="end" font-size="14.0" font-family="Liberation Sans" fill="#d6d6da" stroke="#d6d6da" stroke-width="0.3">IO35</text>
<circle cx="453" cy="192.60" r="8.7" fill="url(#padg)"/>
<text transform="translate(438.50,197.50) scale(0.923,1)" text-anchor="end" font-size="14.0" font-family="Liberation Sans" fill="#d6d6da" stroke="#d6d6da" stroke-width="0.3">IO15</text>
<circle cx="453" cy="218.50" r="8.7" fill="url(#padg)"/>
<text transform="translate(438.50,223.40) scale(0.923,1)" text-anchor="end" font-size="14.0" font-family="Liberation Sans" fill="#d6d6da" stroke="#d6d6da" stroke-width="0.3">NC</text>
<circle cx="453" cy="244.40" r="8.7" fill="url(#padg)"/>
<text transform="translate(438.50,249.30) scale(0.923,1)" text-anchor="end" font-size="14.0" font-family="Liberation Sans" fill="#d6d6da" stroke="#d6d6da" stroke-width="0.3">IO0</text>
<circle cx="453" cy="270.30" r="8.7" fill="url(#padg)"/>
<text transform="translate(438.50,275.20) scale(0.923,1)" text-anchor="end" font-size="14.0" font-family="Liberation Sans" fill="#d6d6da" stroke="#d6d6da" stroke-width="0.3">IO18</text>
<circle cx="453" cy="296.20" r="8.7" fill="url(#padg)"/>
<text transform="translate(438.50,301.10) scale(0.923,1)" text-anchor="end" font-size="14.0" font-family="Liberation Sans" fill="#d6d6da" stroke="#d6d6da" stroke-width="0.3">IO23</text>
<circle cx="453" cy="322.10" r="8.7" fill="url(#padg)"/>
<text transform="translate(438.50,327.00) scale(0.923,1)" text-anchor="end" font-size="14.0" font-family="Liberation Sans" fill="#d6d6da" stroke="#d6d6da" stroke-width="0.3">IO19</text>
<circle cx="453" cy="348.00" r="8.7" fill="url(#padg)"/>
<text transform="translate(438.50,352.90) scale(0.923,1)" text-anchor="end" font-size="14.0" font-family="Liberation Sans" fill="#d6d6da" stroke="#d6d6da" stroke-width="0.3">IO21</text>
<circle cx="453" cy="373.90" r="8.7" fill="url(#padg)"/>
<text transform="translate(438.50,378.80) scale(0.923,1)" text-anchor="end" font-size="14.0" font-family="Liberation Sans" fill="#d6d6da" stroke="#d6d6da" stroke-width="0.3">IO22</text>
<circle cx="453" cy="399.80" r="8.7" fill="url(#padg)"/>
<text transform="translate(438.50,404.70) scale(0.923,1)" text-anchor="end" font-size="14.0" font-family="Liberation Sans" fill="#d6d6da" stroke="#d6d6da" stroke-width="0.3">IO14</text>
<circle cx="453" cy="425.70" r="8.7" fill="url(#padg)"/>
<text transform="translate(438.50,430.60) scale(0.923,1)" text-anchor="end" font-size="14.0" font-family="Liberation Sans" fill="#d6d6da" stroke="#d6d6da" stroke-width="0.3">IO12</text>
<circle cx="453" cy="451.60" r="8.7" fill="url(#padg)"/>
<text transform="translate(438.50,456.50) scale(0.923,1)" text-anchor="end" font-size="14.0" font-family="Liberation Sans" fill="#d6d6da" stroke="#d6d6da" stroke-width="0.3">IO4</text>
<circle cx="453" cy="477.50" r="8.7" fill="url(#padg)"/>
<text transform="translate(438.50,482.40) scale(0.923,1)" text-anchor="end" font-size="14.0" font-family="Liberation Sans" fill="#d6d6da" stroke="#d6d6da" stroke-width="0.3">IO16</text>
<circle cx="453" cy="503.40" r="8.7" fill="url(#padg)"/>
<text transform="translate(438.50,508.30) scale(0.923,1)" text-anchor="end" font-size="14.0" font-family="Liberation Sans" fill="#d6d6da" stroke="#d6d6da" stroke-width="0.3">IO17</text>
<circle cx="453" cy="529.30" r="8.7" fill="url(#padg)"/>
<text transform="translate(438.50,534.20) scale(0.923,1)" text-anchor="end" font-size="14.0" font-family="Liberation Sans" fill="#d6d6da" stroke="#d6d6da" stroke-width="0.3">RST</text>
<text transform="translate(226.3,506.2) rotate(-90) scale(0.92,1)" text-anchor="middle" font-size="13.6" font-family="Liberation Sans" fill="#d6d6da" stroke="#d6d6da" stroke-width="0.3">3V3</text>
<text transform="translate(203.8,557.2) scale(0.92,1)" text-anchor="middle" font-size="13.6" font-family="Liberation Sans" fill="#d6d6da" stroke="#d6d6da" stroke-width="0.3">VCC</text>
<g fill="none" stroke="#d2d2dc" stroke-width="1.6"><path d="M312.6 22.2 H320.2 L322.6 19.1 H333.3 L335.6 22.2 H343.6 V41.5 H312.6 Z" stroke-linejoin="round"/><circle cx="327.7" cy="31.1" r="6.5" stroke-width="2.4"/></g><circle cx="316.8" cy="25.5" r="1.6" fill="#d2d2dc"/>
<rect x="247.5" y="52.3" width="161.5" height="52.3" fill="#d9d9e8"/>
<path d="M246.2 70 H248 V88 H246.2 Z M408.5 72 H410.3 V88 H408.5 Z" fill="#c8c8d4"/>
<path d="M247.5 52.3 H409 V59.1 H398.9 V78.2 H388.4 V69.3 H268 V78.2 H256.4 V59.1 H247.5 Z" fill="#707075"/>
<rect x="270.10" y="69.9" width="2.3" height="3" fill="#9a9aa4"/><rect x="275.10" y="69.9" width="2.3" height="3" fill="#9a9aa4"/><rect x="280.10" y="69.9" width="2.3" height="3" fill="#9a9aa4"/><rect x="285.10" y="69.9" width="2.3" height="3" fill="#9a9aa4"/><rect x="290.10" y="69.9" width="2.3" height="3" fill="#9a9aa4"/><rect x="295.10" y="69.9" width="2.3" height="3" fill="#9a9aa4"/><rect x="300.10" y="69.9" width="2.3" height="3" fill="#9a9aa4"/><rect x="305.10" y="69.9" width="2.3" height="3" fill="#9a9aa4"/><rect x="310.10" y="69.9" width="2.3" height="3" fill="#9a9aa4"/><rect x="315.10" y="69.9" width="2.3" height="3" fill="#9a9aa4"/><rect x="320.10" y="69.9" width="2.3" height="3" fill="#9a9aa4"/><rect x="325.10" y="69.9" width="2.3" height="3" fill="#9a9aa4"/><rect x="330.10" y="69.9" width="2.3" height="3" fill="#9a9aa4"/><rect x="335.10" y="69.9" width="2.3" height="3" fill="#9a9aa4"/><rect x="340.10" y="69.9" width="2.3" height="3" fill="#9a9aa4"/><rect x="345.10" y="69.9" width="2.3" height="3" fill="#9a9aa4"/><rect x="350.10" y="69.9" width="2.3" height="3" fill="#9a9aa4"/><rect x="355.10" y="69.9" width="2.3" height="3" fill="#9a9aa4"/><rect x="360.10" y="69.9" width="2.3" height="3" fill="#9a9aa4"/><rect x="365.10" y="69.9" width="2.3" height="3" fill="#9a9aa4"/><rect x="370.10" y="69.9" width="2.3" height="3" fill="#9a9aa4"/><rect x="375.10" y="69.9" width="2.3" height="3" fill="#9a9aa4"/><rect x="380.10" y="69.9" width="2.3" height="3" fill="#9a9aa4"/><rect x="385.10" y="69.9" width="2.3" height="3" fill="#9a9aa4"/>
<rect x="256.4" y="98.2" width="142" height="1" fill="#e0e0eb"/>
<rect x="268.8" y="103.8" width="118" height="14.5" fill="#eeaa3e"/>
<rect x="268.8" y="103.8" width="118" height="7.8" fill="#ddd0b0"/>
<rect x="270.20" y="103.8" width="1.9" height="8.5" fill="#9a8460"/><rect x="270.50" y="111.6" width="1.3" height="6.7" fill="#d8943a"/><rect x="275.20" y="103.8" width="1.9" height="8.5" fill="#9a8460"/><rect x="275.50" y="111.6" width="1.3" height="6.7" fill="#d8943a"/><rect x="280.20" y="103.8" width="1.9" height="8.5" fill="#9a8460"/><rect x="280.50" y="111.6" width="1.3" height="6.7" fill="#d8943a"/><rect x="285.20" y="103.8" width="1.9" height="8.5" fill="#9a8460"/><rect x="285.50" y="111.6" width="1.3" height="6.7" fill="#d8943a"/><rect x="290.20" y="103.8" width="1.9" height="8.5" fill="#9a8460"/><rect x="290.50" y="111.6" width="1.3" height="6.7" fill="#d8943a"/><rect x="295.20" y="103.8" width="1.9" height="8.5" fill="#9a8460"/><rect x="295.50" y="111.6" width="1.3" height="6.7" fill="#d8943a"/><rect x="300.20" y="103.8" width="1.9" height="8.5" fill="#9a8460"/><rect x="300.50" y="111.6" width="1.3" height="6.7" fill="#d8943a"/><rect x="305.20" y="103.8" width="1.9" height="8.5" fill="#9a8460"/><rect x="305.50" y="111.6" width="1.3" height="6.7" fill="#d8943a"/><rect x="310.20" y="103.8" width="1.9" height="8.5" fill="#9a8460"/><rect x="310.50" y="111.6" width="1.3" height="6.7" fill="#d8943a"/><rect x="315.20" y="103.8" width="1.9" height="8.5" fill="#9a8460"/><rect x="315.50" y="111.6" width="1.3" height="6.7" fill="#d8943a"/><rect x="320.20" y="103.8" width="1.9" height="8.5" fill="#9a8460"/><rect x="320.50" y="111.6" width="1.3" height="6.7" fill="#d8943a"/><rect x="325.20" y="103.8" width="1.9" height="8.5" fill="#9a8460"/><rect x="325.50" y="111.6" width="1.3" height="6.7" fill="#d8943a"/><rect x="330.20" y="103.8" width="1.9" height="8.5" fill="#9a8460"/><rect x="330.50" y="111.6" width="1.3" height="6.7" fill="#d8943a"/><rect x="335.20" y="103.8" width="1.9" height="8.5" fill="#9a8460"/><rect x="335.50" y="111.6" width="1.3" height="6.7" fill="#d8943a"/><rect x="340.20" y="103.8" width="1.9" height="8.5" fill="#9a8460"/><rect x="340.50" y="111.6" width="1.3" height="6.7" fill="#d8943a"/><rect x="345.20" y="103.8" width="1.9" height="8.5" fill="#9a8460"/><rect x="345.50" y="111.6" width="1.3" height="6.7" fill="#d8943a"/><rect x="350.20" y="103.8" width="1.9" height="8.5" fill="#9a8460"/><rect x="350.50" y="111.6" width="1.3" height="6.7" fill="#d8943a"/><rect x="355.20" y="103.8" width="1.9" height="8.5" fill="#9a8460"/><rect x="355.50" y="111.6" width="1.3" height="6.7" fill="#d8943a"/><rect x="360.20" y="103.8" width="1.9" height="8.5" fill="#9a8460"/><rect x="360.50" y="111.6" width="1.3" height="6.7" fill="#d8943a"/><rect x="365.20" y="103.8" width="1.9" height="8.5" fill="#9a8460"/><rect x="365.50" y="111.6" width="1.3" height="6.7" fill="#d8943a"/><rect x="370.20" y="103.8" width="1.9" height="8.5" fill="#9a8460"/><rect x="370.50" y="111.6" width="1.3" height="6.7" fill="#d8943a"/><rect x="375.20" y="103.8" width="1.9" height="8.5" fill="#9a8460"/><rect x="375.50" y="111.6" width="1.3" height="6.7" fill="#d8943a"/><rect x="380.20" y="103.8" width="1.9" height="8.5" fill="#9a8460"/><rect x="380.50" y="111.6" width="1.3" height="6.7" fill="#d8943a"/><rect x="385.20" y="103.8" width="1.9" height="8.5" fill="#9a8460"/><rect x="385.50" y="111.6" width="1.3" height="6.7" fill="#d8943a"/>
<circle cx="263.8" cy="110.5" r="3.1" fill="#e8e8f0"/><circle cx="263.8" cy="110.5" r="1.5" fill="#333"/>
<rect x="254.10" y="138.20" width="10.80" height="24.00" rx="2.6" fill="#eaa93a"/><rect x="254.50" y="143.24" width="10.00" height="13.92" fill="#dccba8"/><rect x="253.60" y="147.32" width="1.6" height="5.76" rx="0.8" fill="#121212"/><rect x="263.80" y="147.32" width="1.6" height="5.76" rx="0.8" fill="#121212"/><rect x="256.40" y="145.40" width="6.20" height="9.60" fill="#a6784a"/>
<rect x="268.50" y="138.20" width="10.80" height="24.00" rx="2.6" fill="#eaa93a"/><rect x="268.90" y="143.24" width="10.00" height="13.92" fill="#dccba8"/><rect x="268.00" y="147.32" width="1.6" height="5.76" rx="0.8" fill="#121212"/><rect x="278.20" y="147.32" width="1.6" height="5.76" rx="0.8" fill="#121212"/><rect x="270.80" y="145.40" width="6.20" height="9.60" fill="#a6784a"/>
<rect x="282.90" y="138.20" width="10.80" height="24.00" rx="2.6" fill="#eaa93a"/><rect x="283.30" y="143.24" width="10.00" height="13.92" fill="#dccba8"/><rect x="282.40" y="147.32" width="1.6" height="5.76" rx="0.8" fill="#121212"/><rect x="292.60" y="147.32" width="1.6" height="5.76" rx="0.8" fill="#121212"/><rect x="285.20" y="145.40" width="6.20" height="9.60" fill="#a6784a"/>
<rect x="310.20" y="138.20" width="10.80" height="24.00" rx="2.6" fill="#eaa93a"/><rect x="310.60" y="143.24" width="10.00" height="13.92" fill="#dccba8"/><rect x="309.70" y="147.32" width="1.6" height="5.76" rx="0.8" fill="#121212"/><rect x="319.90" y="147.32" width="1.6" height="5.76" rx="0.8" fill="#121212"/><rect x="312.50" y="145.40" width="6.20" height="9.60" fill="#a6784a"/>
<rect x="324.50" y="138.20" width="10.80" height="24.00" rx="2.6" fill="#eaa93a"/><rect x="324.90" y="143.24" width="10.00" height="13.92" fill="#dccba8"/><rect x="324.00" y="147.32" width="1.6" height="5.76" rx="0.8" fill="#121212"/><rect x="334.20" y="147.32" width="1.6" height="5.76" rx="0.8" fill="#121212"/><rect x="326.80" y="145.40" width="6.20" height="9.60" fill="#a6784a"/>
<rect x="294.00" y="224.40" width="10.60" height="23.40" rx="2.6" fill="#eaa93a"/><rect x="294.40" y="229.31" width="9.80" height="13.57" fill="#dccba8"/><rect x="293.50" y="233.29" width="1.6" height="5.62" rx="0.8" fill="#121212"/><rect x="303.50" y="233.29" width="1.6" height="5.62" rx="0.8" fill="#121212"/><rect x="296.30" y="231.42" width="6.00" height="9.36" fill="#a6784a"/>
<rect x="307.80" y="224.40" width="10.60" height="23.40" rx="2.6" fill="#eaa93a"/><rect x="308.20" y="229.31" width="9.80" height="13.57" fill="#dccba8"/><rect x="307.30" y="233.29" width="1.6" height="5.62" rx="0.8" fill="#121212"/><rect x="317.30" y="233.29" width="1.6" height="5.62" rx="0.8" fill="#121212"/><rect x="310.10" y="231.42" width="6.00" height="9.36" fill="#a6784a"/>
<circle cx="295.80" cy="262.7" r="2.8" fill="#eaa93a"/><circle cx="295.80" cy="318.3" r="2.8" fill="#eaa93a"/><circle cx="285.2" cy="272.80" r="2.8" fill="#eaa93a"/><circle cx="340.7" cy="272.80" r="2.8" fill="#eaa93a"/><circle cx="300.80" cy="262.7" r="2.8" fill="#eaa93a"/><circle cx="300.80" cy="318.3" r="2.8" fill="#eaa93a"/><circle cx="285.2" cy="278.00" r="2.8" fill="#eaa93a"/><circle cx="340.7" cy="278.00" r="2.8" fill="#eaa93a"/><circle cx="305.80" cy="262.7" r="2.8" fill="#eaa93a"/><circle cx="305.80" cy="318.3" r="2.8" fill="#eaa93a"/><circle cx="285.2" cy="283.20" r="2.8" fill="#eaa93a"/><circle cx="340.7" cy="283.20" r="2.8" fill="#eaa93a"/><circle cx="310.80" cy="262.7" r="2.8" fill="#eaa93a"/><circle cx="310.80" cy="318.3" r="2.8" fill="#eaa93a"/><circle cx="285.2" cy="288.40" r="2.8" fill="#eaa93a"/><circle cx="340.7" cy="288.40" r="2.8" fill="#eaa93a"/><circle cx="315.80" cy="262.7" r="2.8" fill="#eaa93a"/><circle cx="315.80" cy="318.3" r="2.8" fill="#eaa93a"/><circle cx="285.2" cy="293.60" r="2.8" fill="#eaa93a"/><circle cx="340.7" cy="293.60" r="2.8" fill="#eaa93a"/><circle cx="320.80" cy="262.7" r="2.8" fill="#eaa93a"/><circle cx="320.80" cy="318.3" r="2.8" fill="#eaa93a"/><circle cx="285.2" cy="298.80" r="2.8" fill="#eaa93a"/><circle cx="340.7" cy="298.80" r="2.8" fill="#eaa93a"/><circle cx="325.80" cy="262.7" r="2.8" fill="#eaa93a"/><circle cx="325.80" cy="318.3" r="2.8" fill="#eaa93a"/><circle cx="285.2" cy="304.00" r="2.8" fill="#eaa93a"/><circle cx="340.7" cy="304.00" r="2.8" fill="#eaa93a"/><circle cx="330.80" cy="262.7" r="2.8" fill="#eaa93a"/><circle cx="330.80" cy="318.3" r="2.8" fill="#eaa93a"/><circle cx="285.2" cy="309.20" r="2.8" fill="#eaa93a"/><circle cx="340.7" cy="309.20" r="2.8" fill="#eaa93a"/>
<rect x="288" y="265.2" width="50.2" height="51.6" fill="#6b6b72"/>
<rect x="288.5" y="265.7" width="49.2" height="50.6" fill="none" stroke="#8e8e98" stroke-width="1"/>
<circle cx="332.8" cy="311.4" r="1.8" fill="#3a3a3e"/>
<rect x="378.1" y="200.40" width="20.4" height="60" rx="2.5" fill="#eaa93a"/><rect x="378.1" y="203.60" width="20.4" height="53.6" fill="#b6b6bc"/><rect x="372.7" y="209.50" width="31.1" height="42.4" rx="1" fill="#b6b6bc"/><circle cx="388.3" cy="230.40" r="7.5" fill="#5c5c62"/>
<rect x="378.1" y="268.90" width="20.4" height="60" rx="2.5" fill="#eaa93a"/><rect x="378.1" y="272.10" width="20.4" height="53.6" fill="#b6b6bc"/><rect x="372.7" y="278.00" width="31.1" height="42.4" rx="1" fill="#b6b6bc"/><circle cx="388.3" cy="298.90" r="7.5" fill="#5c5c62"/>
<text transform="translate(370,230.9) rotate(-90) scale(0.96,1)" text-anchor="middle" font-size="13.6" font-family="Liberation Sans" fill="#d6d6da" stroke="#d6d6da" stroke-width="0.3">USER</text>
<text transform="translate(370,295.6) rotate(-90) scale(0.96,1)" text-anchor="middle" font-size="13.6" font-family="Liberation Sans" fill="#d6d6da" stroke="#d6d6da" stroke-width="0.3">RST</text>
<rect x="249.20" y="344.10" width="10.80" height="23.80" rx="2.6" fill="#eaa93a"/><rect x="249.60" y="349.10" width="10.00" height="13.80" fill="#dccba8"/><rect x="248.70" y="353.14" width="1.6" height="5.71" rx="0.8" fill="#121212"/><rect x="258.90" y="353.14" width="1.6" height="5.71" rx="0.8" fill="#121212"/><rect x="251.50" y="351.24" width="6.20" height="9.52" fill="#a6784a"/>
<rect x="263.80" y="344.10" width="10.80" height="23.80" rx="2.6" fill="#eaa93a"/><rect x="264.20" y="349.10" width="10.00" height="13.80" fill="#eaa93a"/><rect x="263.30" y="353.14" width="1.6" height="5.71" rx="0.8" fill="#121212"/><rect x="273.50" y="353.14" width="1.6" height="5.71" rx="0.8" fill="#121212"/><rect x="266.10" y="351.24" width="6.20" height="9.52" fill="#d42020"/>
<rect x="277.10" y="344.10" width="10.80" height="23.80" rx="2.6" fill="#eaa93a"/><rect x="277.50" y="349.10" width="10.00" height="13.80" fill="#d8d8f0"/><rect x="276.60" y="353.14" width="1.6" height="5.71" rx="0.8" fill="#121212"/><rect x="286.80" y="353.14" width="1.6" height="5.71" rx="0.8" fill="#121212"/><rect x="279.40" y="351.24" width="6.20" height="9.52" fill="#6a6a78"/>
<rect x="291.70" y="344.10" width="10.80" height="23.80" rx="2.6" fill="#eaa93a"/><rect x="292.10" y="349.10" width="10.00" height="13.80" fill="#dccba8"/><rect x="291.20" y="353.14" width="1.6" height="5.71" rx="0.8" fill="#121212"/><rect x="301.40" y="353.14" width="1.6" height="5.71" rx="0.8" fill="#121212"/><rect x="294.00" y="351.24" width="6.20" height="9.52" fill="#a6784a"/>
<rect x="306.20" y="344.10" width="10.80" height="23.80" rx="2.6" fill="#eaa93a"/><rect x="306.60" y="349.10" width="10.00" height="13.80" fill="#dccba8"/><rect x="305.70" y="353.14" width="1.6" height="5.71" rx="0.8" fill="#121212"/><rect x="315.90" y="353.14" width="1.6" height="5.71" rx="0.8" fill="#121212"/><rect x="308.50" y="351.24" width="6.20" height="9.52" fill="#a6784a"/>
<rect x="327.50" y="344.10" width="10.80" height="23.80" rx="2.6" fill="#eaa93a"/><rect x="327.90" y="349.10" width="10.00" height="13.80" fill="#dccba8"/><rect x="327.00" y="353.14" width="1.6" height="5.71" rx="0.8" fill="#121212"/><rect x="337.20" y="353.14" width="1.6" height="5.71" rx="0.8" fill="#121212"/><rect x="329.80" y="351.24" width="6.20" height="9.52" fill="#a6784a"/>
<rect x="341.80" y="344.10" width="10.80" height="23.80" rx="2.6" fill="#eaa93a"/><rect x="342.20" y="349.10" width="10.00" height="13.80" fill="#dccba8"/><rect x="341.30" y="353.14" width="1.6" height="5.71" rx="0.8" fill="#121212"/><rect x="351.50" y="353.14" width="1.6" height="5.71" rx="0.8" fill="#121212"/><rect x="344.10" y="351.24" width="6.20" height="9.52" fill="#a6784a"/>
<rect x="356.40" y="344.10" width="10.80" height="23.80" rx="2.6" fill="#eaa93a"/><rect x="356.80" y="349.10" width="10.00" height="13.80" fill="#d8d8f0"/><rect x="355.90" y="353.14" width="1.6" height="5.71" rx="0.8" fill="#121212"/><rect x="366.10" y="353.14" width="1.6" height="5.71" rx="0.8" fill="#121212"/><rect x="358.70" y="351.24" width="6.20" height="9.52" fill="#6a6a78"/>
<rect x="370.90" y="344.10" width="10.80" height="23.80" rx="2.6" fill="#eaa93a"/><rect x="371.30" y="349.10" width="10.00" height="13.80" fill="#dccba8"/><rect x="370.40" y="353.14" width="1.6" height="5.71" rx="0.8" fill="#121212"/><rect x="380.60" y="353.14" width="1.6" height="5.71" rx="0.8" fill="#121212"/><rect x="373.20" y="351.24" width="6.20" height="9.52" fill="#a6784a"/>
<rect x="385.50" y="344.10" width="10.80" height="23.80" rx="2.6" fill="#eaa93a"/><rect x="385.90" y="349.10" width="10.00" height="13.80" fill="#dccba8"/><rect x="385.00" y="353.14" width="1.6" height="5.71" rx="0.8" fill="#121212"/><rect x="395.20" y="353.14" width="1.6" height="5.71" rx="0.8" fill="#121212"/><rect x="387.80" y="351.24" width="6.20" height="9.52" fill="#a6784a"/>
<text x="244.7" y="400.1" font-family="Liberation Sans" font-size="13" fill="#d6d6da" stroke="#d6d6da" stroke-width="0.3">PWR_EN</text>
<polygon points="268,407.6 279,407.6 287,415.6 287,426.6 279,434.6 268,434.6 260,426.6 260,415.6" fill="none" stroke="#cdcdd8" stroke-width="2.4" transform="translate(0.2,0)"/>
<circle cx="273.5" cy="421.2" r="8" fill="url(#padg)"/>
<circle cx="360.8" cy="419.3" r="29.2" fill="#56565e" stroke="#d6d6e4" stroke-width="2.6"/>
<g fill="none" stroke="#d6d6e4" stroke-width="2" stroke-linecap="round"><rect x="354.1" y="454.1" width="15.2" height="23.6" rx="7.6"/><path d="M351.7 470 A10 11.2 0 0 0 371.7 470"/><path d="M361.7 481.4 V488.3 M353.4 488.3 H369.8"/></g>
<g fill="#dcdce8"><path d="M257.6 461.5 Q257.6 458.3 261 458.2 L267.5 458 L267.8 465 L261 465.2 Q257.6 465 257.6 461.5 Z"/><path d="M264.8 464.6 L268.6 473.6 L271.4 472.6 L268.4 464.6 Z"/></g><path d="M266.6 458.8 L278.4 448.8 M267.4 464.8 L280 466.4" stroke="#dcdce8" stroke-width="2" fill="none"/><path d="M277.8 447 Q283.4 457 280.4 467.4 Q276.2 457 277.8 447 Z" fill="#dcdce8" stroke="#dcdce8" stroke-width="1.8"/><g fill="none" stroke="#c4c4d0" stroke-width="1.5"><path d="M284 450.5 Q286.6 457 284 464"/><path d="M287.3 448.5 Q290.6 457 287.3 466"/><path d="M290.6 447.2 Q294.6 457 290.6 467.2"/></g>
<path d="M232.5 491.5 H241.1 V516.2 H304.5 V491.5 H313 V571 H232.5 Z" fill="#d9d9e8"/>
<rect x="256.1" y="477.6" width="12.9" height="38.6" rx="3" fill="#dcae64"/><rect x="256.1" y="477.6" width="12.9" height="9" rx="3" fill="#eea838"/>
<rect x="257.5" y="486" width="10.1" height="30.2" fill="#8c8c94"/>
<rect x="257.5" y="506.8" width="10.1" height="3.2" fill="#1a1a1a"/>
<rect x="275.5" y="477.6" width="12.9" height="38.6" rx="3" fill="#dcae64"/><rect x="275.5" y="477.6" width="12.9" height="9" rx="3" fill="#eea838"/>
<rect x="276.9" y="486" width="10.1" height="30.2" fill="#8c8c94"/>
<rect x="276.9" y="506.8" width="10.1" height="3.2" fill="#1a1a1a"/>
<g fill="#efa434"><rect x="317.8" y="492" width="14" height="15.8" rx="1.5"/><rect x="317.8" y="514.3" width="14" height="14.4" rx="1.5"/><rect x="317.8" y="579.5" width="14" height="15.7" rx="1.5"/><rect x="391" y="502.6" width="14.2" height="15.6" rx="1.5"/><rect x="391" y="553.4" width="14.2" height="14.4" rx="1.5"/><rect x="391" y="579.5" width="14.2" height="15.7" rx="1.5"/></g>
<rect x="337.4" y="612" width="48.2" height="23.8" rx="2" fill="url(#jackg)"/>
<rect x="330.3" y="492.2" width="62.6" height="90" fill="#5c5c62" stroke="#8c8c92" stroke-width="1"/>
<rect x="330.3" y="582.1" width="62.6" height="30.4" fill="#efa332"/><path d="M330.5 582.1 V612.5 M392.7 582.1 V612.5" stroke="#f2c07a" stroke-width="0.7"/>
<path d="M358.2 608 V612.5 M364.9 608 V612.5" stroke="#7a5020" stroke-width="1.2" fill="none"/>
</svg></body></html>
